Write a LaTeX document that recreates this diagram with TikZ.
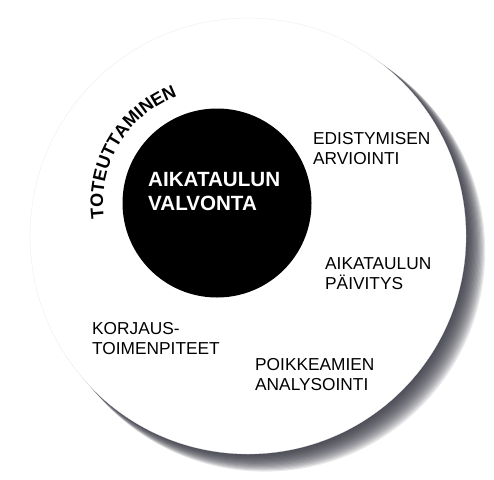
\documentclass[tikz,border=0pt]{standalone}
\usepackage{fontspec}
\setmainfont{Liberation Sans}
\usetikzlibrary{calc,decorations.text}
\definecolor{mshadow}{RGB}{48,48,60}
\definecolor{mrim}{RGB}{228,228,232}

\begin{document}
\begin{tikzpicture}[
    x=1pt,
    y=1pt,
    phase/.style={inner sep=0pt,
        anchor=north west,
        align=left,
        font=\fontsize{17.3}{20}\selectfont},
    core/.style={circle,
        fill=black,
        minimum size=189pt,
        inner sep=0pt}]

\useasboundingbox (0,0) rectangle (494,-479);

% Disc with its shadow
\coordinate (disc) at (248,-236);
\foreach \s in {1,...,16}
    \fill[mshadow, opacity=0.11] ($(disc)+(1.05*\s,-0.95*\s)$) circle ({218+0.15*\s});
\fill[white] (disc) circle (218);
\draw[mrim, very thin] (disc) circle (218);

% Black core
\node[core] (core) at (217,-203) {};
\node[inner sep=0pt,
    anchor=north west,
    align=left,
    text=white,
    font=\bfseries\fontsize{20.6}{24}\selectfont] (valvonta) at (148,-172) {AIKATAULUN\\VALVONTA};

% Curved label
\path[decorate,
    decoration={text along path,
        text={|\bfseries\fontsize{18}{18}\selectfont|TOTEUTTAMINEN},
        text align=center}]
    ([shift={(197:114)}]core.center) arc (197:101:114pt);

% Phases
\node[phase] (arviointi) at (313,-132) {EDISTYMISEN\\ARVIOINTI};
\node[phase] (paivitys) at (325,-257) {AIKATAULUN\\PÄIVITYS};
\node[phase] (analysointi) at (255,-358) {POIKKEAMIEN\\ANALYSOINTI};
\node[phase] (korjaus) at (92,-322) {KORJAUS-\\TOIMENPITEET};

\end{tikzpicture}
\end{document}
